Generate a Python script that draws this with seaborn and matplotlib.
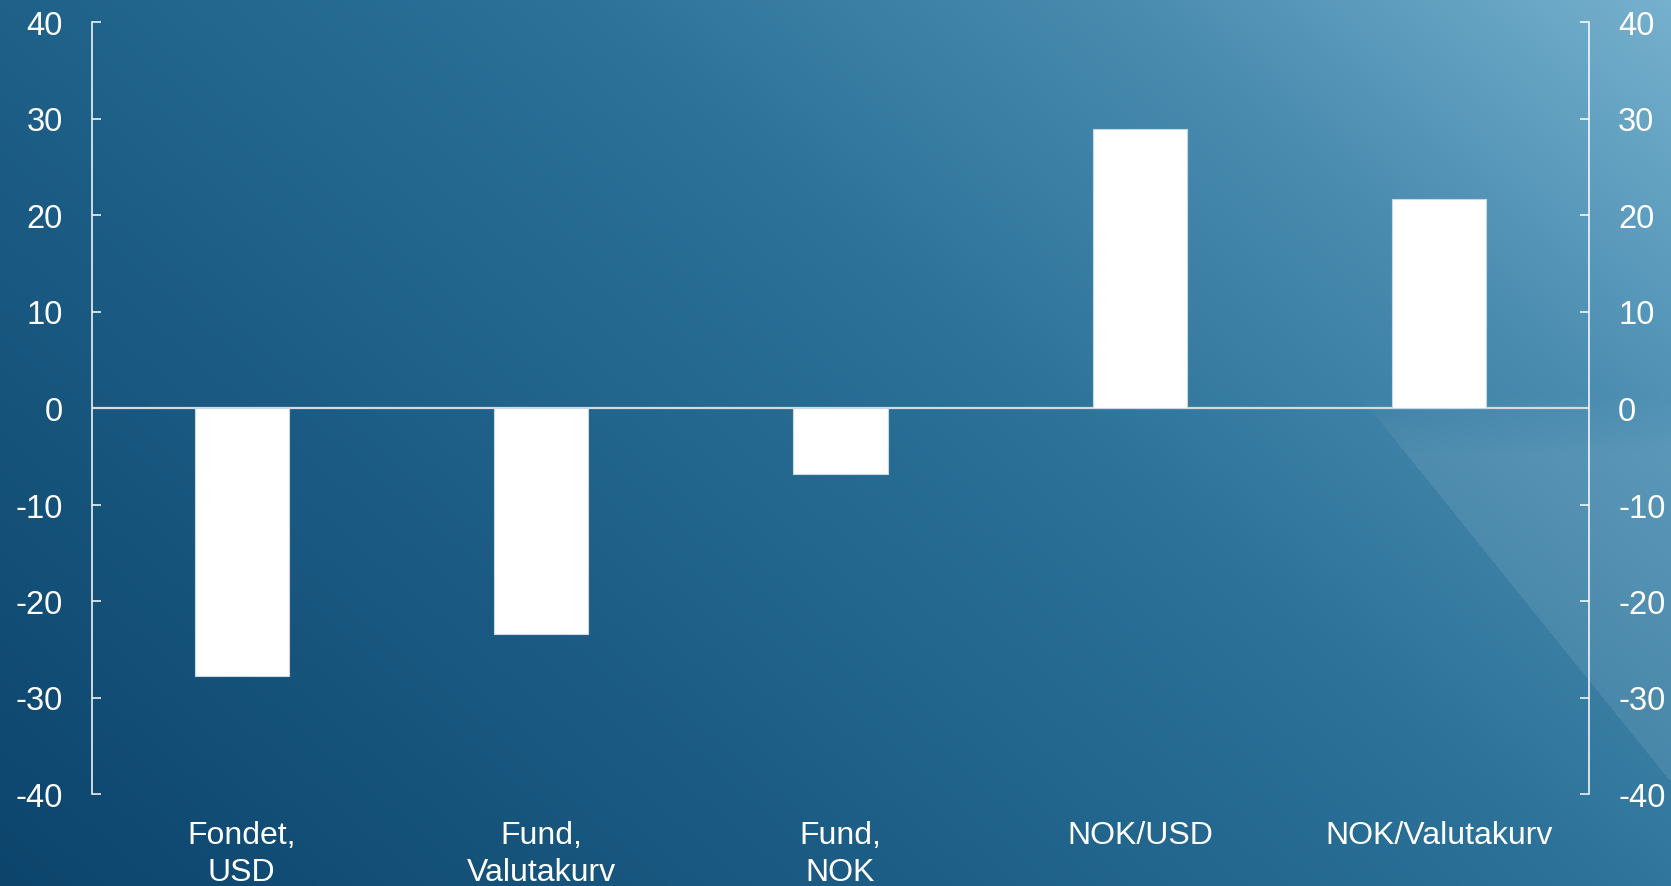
import numpy as np
import pandas as pd
import seaborn as sns
import matplotlib.pyplot as plt
from matplotlib.colors import to_rgb

sns.set_theme(style="white")
plt.rcParams["font.family"] = ["Liberation Sans", "DejaVu Sans"]
plt.rcParams["axes.unicode_minus"] = False

categories = ["Fondet,\nUSD", "Fund,\nValutakurv", "Fund,\nNOK", "NOK/USD", "NOK/Valutakurv"]
values = [-27.8, -23.4, -6.8, 28.9, 21.7]
yticks = [-40, -30, -20, -10, 0, 10, 20, 30, 40]

df = pd.DataFrame({"kategori": categories, "endring": values})

W, H = 1671, 887
fig = plt.figure(figsize=(W / 100, H / 100), dpi=100)

# background: diagonal blue gradient + faint light wedge bottom right
bg = fig.add_axes([0, 0, 1, 1], zorder=0)
yy, xx = np.mgrid[0:H, 0:W]
t = 0.62 * xx / W + 0.38 * (1 - yy / H)
stops = [0.0, 0.38, 0.58, 0.8, 1.0]
cols = [to_rgb(c) for c in ["#0c446c", "#1f6189", "#2b7198", "#4a8cb0", "#76b1ce"]]
img = np.zeros((H, W, 3))
for k in range(3):
    img[..., k] = np.interp(t, stops, [c[k] for c in cols])
x_line = 1370 + (yy - 410) / 1.24
a = np.where(xx > x_line, 0.09 * np.clip((yy - 395) / 60, 0, 1), 0.0)
img = img * (1 - a[..., None]) + a[..., None]
bg.imshow(img, extent=(0, W, H, 0), aspect="auto")
bg.axis("off")

ax = fig.add_axes([92 / W, 1 - 795 / H, (1589 - 92) / W, (795 - 23) / H], zorder=1)
ax.set_facecolor("none")
sns.barplot(data=df, x="kategori", y="endring", color="white", saturation=1,
            width=0.314, edgecolor="#c8d8e4", linewidth=0.8, ax=ax, zorder=3)
ax.axhline(0, color="#d9d9d9", lw=1.6, zorder=2)
ax.set_ylim(-40, 40)
ax.set_yticks(yticks)
ax.set_xlim(-0.5, len(categories) - 0.5)
ax.set_xlabel("")
ax.set_ylabel("")

for s in ["top", "bottom"]:
    ax.spines[s].set_visible(False)
for s in ["left", "right"]:
    ax.spines[s].set_visible(True)
    ax.spines[s].set_color("white")
    ax.spines[s].set_linewidth(1.1)

ax.tick_params(axis="y", which="both", direction="in", length=6.5, width=1.1,
               color="white", labelcolor="white", labelsize=23.5, pad=21,
               left=True, right=True, labelleft=True, labelright=True)
ax.tick_params(axis="x", length=0, labelcolor="white", labelsize=23, pad=19)
for lbl in ax.get_xticklabels():
    lbl.set_linespacing(1.3)

fig.savefig("out.png", dpi=100)
